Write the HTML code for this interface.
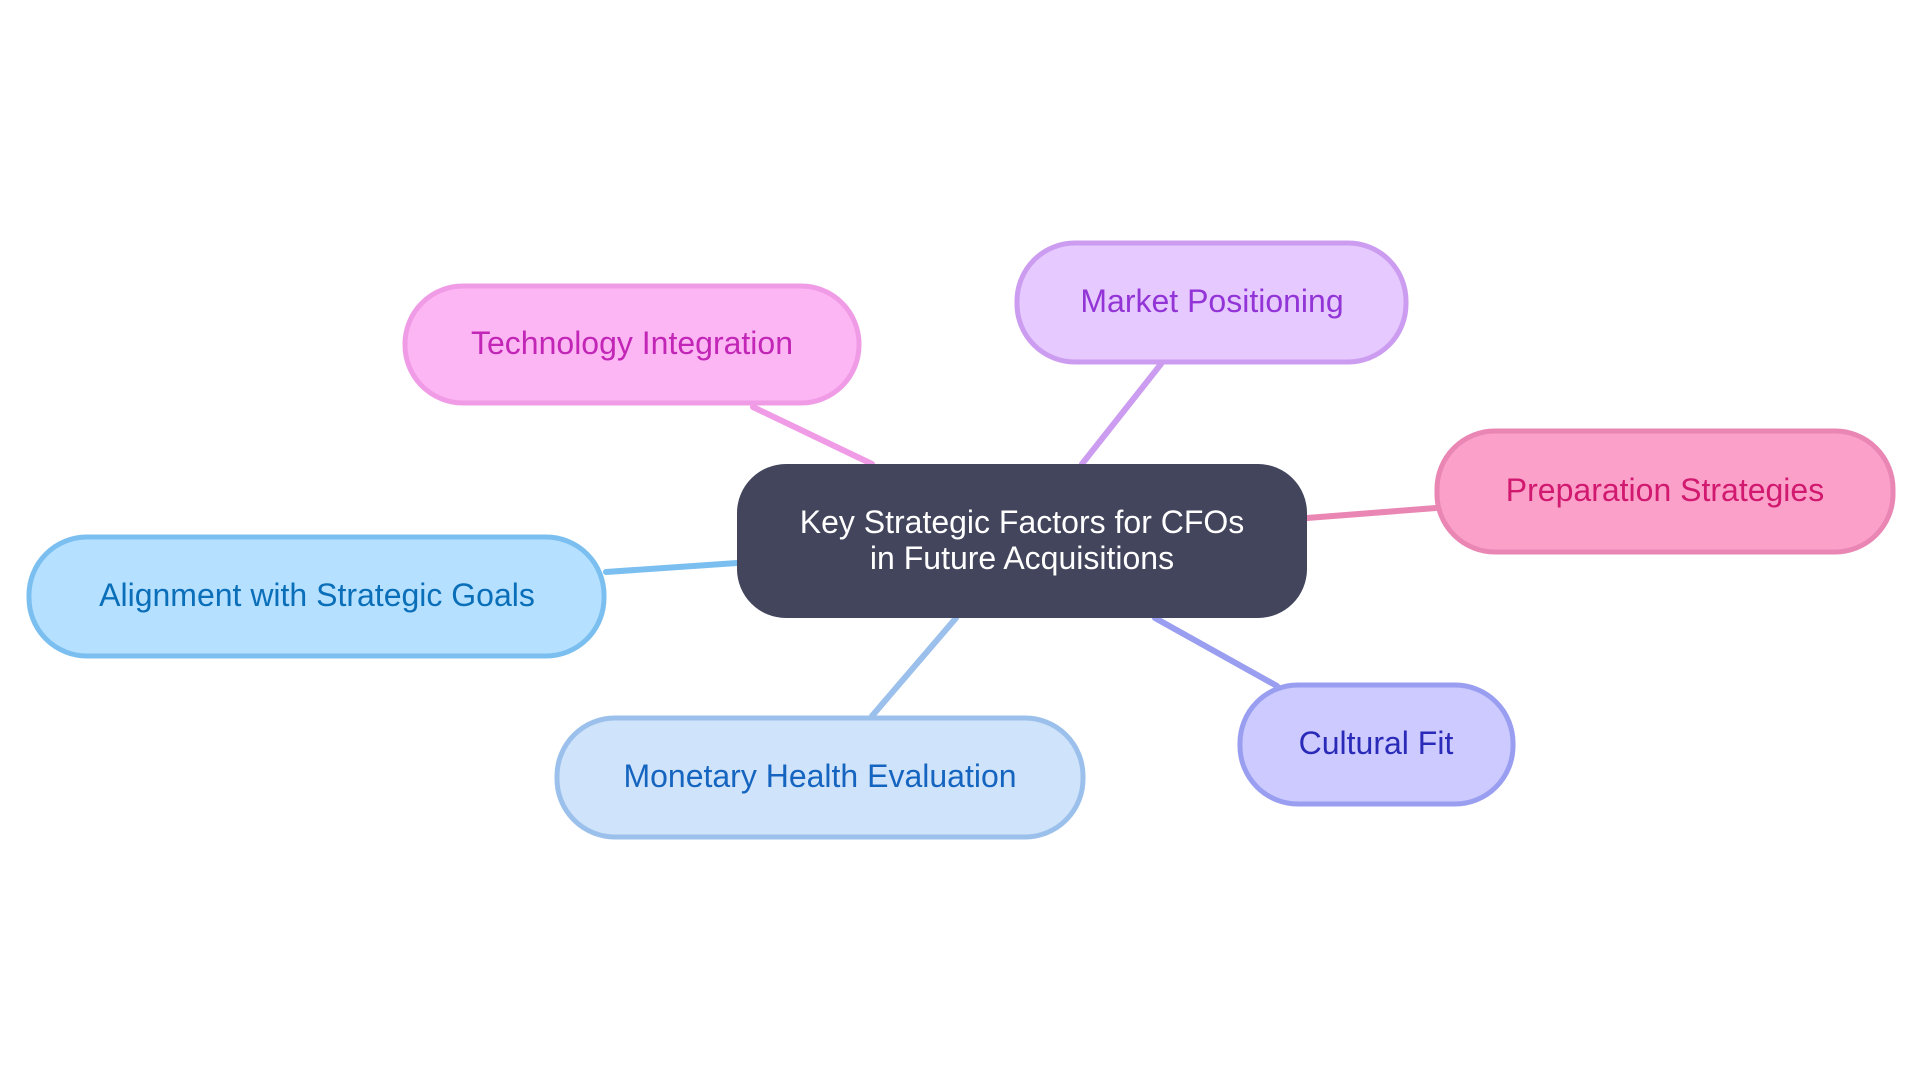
<!DOCTYPE html>
<html><head><meta charset="utf-8"><style>
body{margin:0;background:#fff;}
svg text{font-family:"Liberation Sans",sans-serif;font-size:32px;text-anchor:middle;dominant-baseline:central;}
</style></head><body>
<svg width="1920" height="1080" xmlns="http://www.w3.org/2000/svg">
<g stroke-width="6" stroke-linecap="round">
<line x1="753" y1="407" x2="872" y2="464" stroke="#f09be6"/>
<line x1="1161" y1="364" x2="1082" y2="464" stroke="#cc9cf0"/>
<line x1="1307" y1="518" x2="1436" y2="508" stroke="#e986b4"/>
<line x1="606" y1="572" x2="737" y2="563" stroke="#7bbff0"/>
<line x1="872" y1="716" x2="956" y2="618" stroke="#9bc0ec"/>
<line x1="1277" y1="686" x2="1155" y2="618" stroke="#9a9ef0"/>
</g>
<rect x="737" y="464" width="570" height="154" rx="49" fill="#42455c"/>
<text x="1022" y="522" fill="#fff">Key Strategic Factors for CFOs</text>
<text x="1022" y="558" fill="#fff">in Future Acquisitions</text>
<g stroke-width="5">
<rect x="405" y="286" width="454" height="117" rx="58" fill="#fdb6f4" stroke="#f09be6"/>
<rect x="1017" y="243" width="389" height="119" rx="58" fill="#e6caff" stroke="#cc9cf0"/>
<rect x="1437" y="431" width="456" height="121" rx="58" fill="#fba0c9" stroke="#e986b4"/>
<rect x="29" y="537" width="575" height="119" rx="58" fill="#b5e0ff" stroke="#7bbff0"/>
<rect x="557" y="718" width="526" height="119" rx="58" fill="#cfe3fa" stroke="#9bc0ec"/>
<rect x="1240" y="685" width="273" height="119" rx="58" fill="#cccafe" stroke="#9a9ef0"/>
</g>
<text x="632" y="343" fill="#c226b6">Technology Integration</text>
<text x="1212" y="301" fill="#9234d6">Market Positioning</text>
<text x="1665" y="490" fill="#d0196f">Preparation Strategies</text>
<text x="317" y="595" fill="#0a6fb8">Alignment with Strategic Goals</text>
<text x="820" y="776" fill="#1565c0">Monetary Health Evaluation</text>
<text x="1376" y="743" fill="#2a2ab8">Cultural Fit</text>
</svg>
</body></html>
